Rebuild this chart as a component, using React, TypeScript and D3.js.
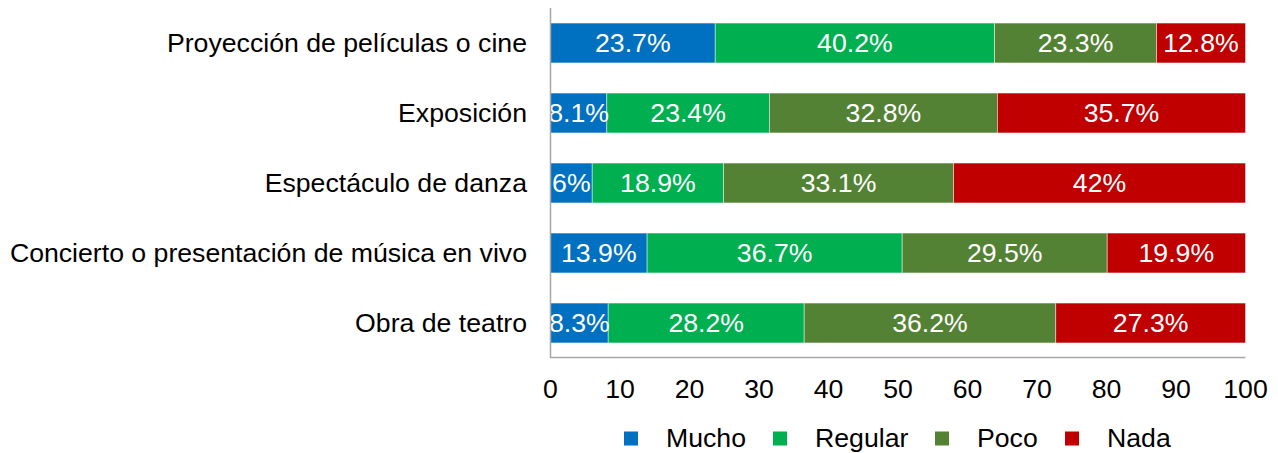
import React from "react";
import * as d3 from "d3";

const categories = [
  "Proyección de películas o cine",
  "Exposición",
  "Espectáculo de danza",
  "Concierto o presentación de música en vivo",
  "Obra de teatro",
];
const seriesNames = ["Mucho", "Regular", "Poco", "Nada"];
const mucho = [23.7, 8.1, 6, 13.9, 8.3];
const regular = [40.2, 23.4, 18.9, 36.7, 28.2];
const poco = [23.3, 32.8, 33.1, 29.5, 36.2];
const nada = [12.8, 35.7, 42, 19.9, 27.3];
const xTicks = [0, 10, 20, 30, 40, 50, 60, 70, 80, 90, 100];
const colors = ["#0070C0", "#00B050", "#548235", "#C00000"];

const W = 1278;
const H = 453;
const FONT = "'Liberation Sans', Arial, sans-serif";
const FS = 26.67;

export default function App() {
  const x = d3.scaleLinear().domain([0, 100]).range([550.5, 1245.5]);
  const y = d3.scaleBand<string>().domain(categories).range([8, 358]).paddingInner(0.43).paddingOuter(0.215);
  const series = [mucho, regular, poco, nada];
  const rows = categories.map((c, i) => {
    const vals = series.map((s) => s[i]);
    let acc = 0;
    return vals.map((v, k) => {
      const seg = { cat: c, k, v, x0: acc, x1: acc + v };
      acc += v;
      return seg;
    });
  });
  const legendSquares = [624, 773, 935, 1065];
  const legendTexts = [666, 815, 977, 1107];

  return (
    <svg width={W} height={H} style={{ position: "absolute", left: 0, top: 0, background: "#fff" }} fontFamily={FONT}>
      {rows.map((segs, i) => (
        <g key={i}>
          {segs.map((s) => (
            <rect
              key={s.k}
              x={x(s.x0)}
              y={y(s.cat)}
              width={x(s.x1) - x(s.x0)}
              height={y.bandwidth()}
              fill={colors[s.k]}
              stroke="#ffffff"
              strokeOpacity={0.6}
              strokeWidth={0.75}
            />
          ))}
          {segs.map((s) => (
            <text
              key={"t" + s.k}
              x={(x(s.x0) + x(s.x1)) / 2}
              y={(y(s.cat) as number) + y.bandwidth() / 2 + 9}
              fill="#ffffff"
              fontSize={FS}
              textAnchor="middle"
            >
              {s.v + "%"}
            </text>
          ))}
          <text
            x={527}
            y={(y(segs[0].cat) as number) + y.bandwidth() / 2 + 9}
            fontSize={FS}
            textAnchor="end"
            fill="#000"
          >
            {segs[0].cat}
          </text>
        </g>
      ))}
      <line x1={550.5} x2={550.5} y1={8} y2={358} stroke="#a6a6a6" strokeWidth={1.5} />
      <line x1={550} x2={1245.5} y1={357.5} y2={357.5} stroke="#a6a6a6" strokeWidth={1.5} />
      {xTicks.map((t) => (
        <text key={t} x={x(t)} y={398} fontSize={FS} textAnchor="middle" fill="#000">
          {t}
        </text>
      ))}
      {seriesNames.map((n, i) => (
        <g key={n}>
          <rect x={legendSquares[i]} y={431.5} width={14} height={14} fill={colors[i]} />
          <text x={legendTexts[i]} y={447} fontSize={FS} fill="#000">
            {n}
          </text>
        </g>
      ))}
    </svg>
  );
}
